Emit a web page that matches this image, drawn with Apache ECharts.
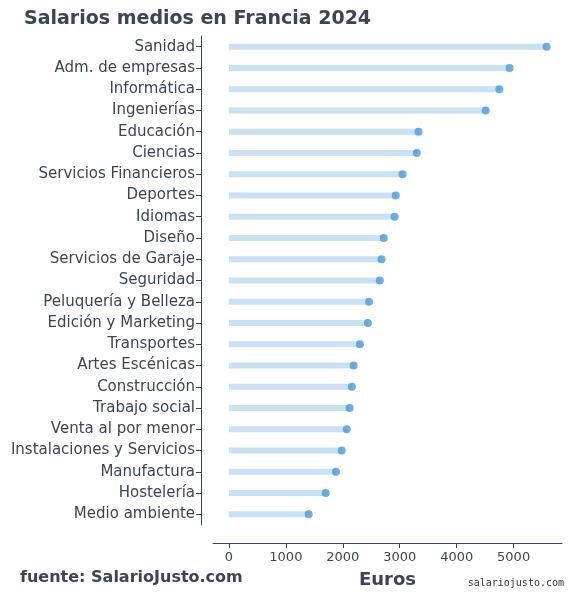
<!DOCTYPE html>
<html><head><meta charset="utf-8">
<script src="https://cdn.jsdelivr.net/npm/echarts@6/dist/echarts.min.js"></script>
<style>html,body{margin:0;padding:0;background:#fff}#c{width:572px;height:600px}</style>
</head><body><div id="c"></div>
<script>
const categories = ['Sanidad','Adm. de empresas','Informática','Ingenierías','Educación','Ciencias','Servicios Financieros','Deportes','Idiomas','Diseño','Servicios de Garaje','Seguridad','Peluquería y Belleza','Edición y Marketing','Transportes','Artes Escénicas','Construcción','Trabajo social','Venta al por menor','Instalaciones y Servicios','Manufactura','Hostelería','Medio ambiente'];
const salaries = [5580,4930,4750,4510,3330,3300,3050,2930,2910,2720,2680,2650,2460,2440,2300,2190,2160,2120,2070,1980,1880,1700,1400];
const xTicks = [0,1000,2000,3000,4000,5000];

const txt = '#3a4556';
const chart = echarts.init(document.getElementById('c'));
chart.setOption({
  animation: false,
  title: {text: 'Salarios medios en Francia 2024', left: 19, top: 5,
    textStyle: {fontFamily: 'DejaVu Sans', fontSize: 19, fontWeight: 'bold', color: txt}},
  graphic: [
    {type: 'text', left: 20, top: 570, style: {text: 'fuente: SalarioJusto.com', font: 'bold 16px DejaVu Sans', fill: txt}},
    {type: 'text', right: 8, top: 578, style: {text: 'salariojusto.com', font: '10px DejaVu Sans Mono', fill: '#333'}}
  ],
  grid: {left: 213, right: 10, top: 36, bottom: 75},
  xAxis: {type: 'value', min: -280, max: 5850, offset: 18,
    name: 'Euros', nameLocation: 'middle', nameGap: 28,
    nameTextStyle: {fontFamily: 'DejaVu Sans', fontSize: 18, fontWeight: 'bold', color: txt},
    axisLine: {show: true, onZero: false, lineStyle: {color: txt}},
    axisTick: {show: true, customValues: xTicks, lineStyle: {color: txt}},
    axisLabel: {customValues: xTicks, formatter: v => String(v), color: txt, fontFamily: 'DejaVu Sans', fontSize: 13},
    splitLine: {show: false}},
  yAxis: {type: 'category', data: categories, inverse: true, offset: 12,
    axisLine: {show: true, onZero: false, lineStyle: {color: txt}},
    axisTick: {show: true, alignWithLabel: true, lineStyle: {color: txt}},
    axisLabel: {color: txt, fontFamily: 'DejaVu Sans', fontSize: 15, margin: 6}},
  series: [
    {type: 'bar', data: salaries, barWidth: 6, itemStyle: {color: '#c9e1f3'}, z: 1},
    {type: 'scatter', data: salaries, symbolSize: 8, itemStyle: {color: '#4a9ad8'}, z: 2}
  ]
});
</script></body></html>
